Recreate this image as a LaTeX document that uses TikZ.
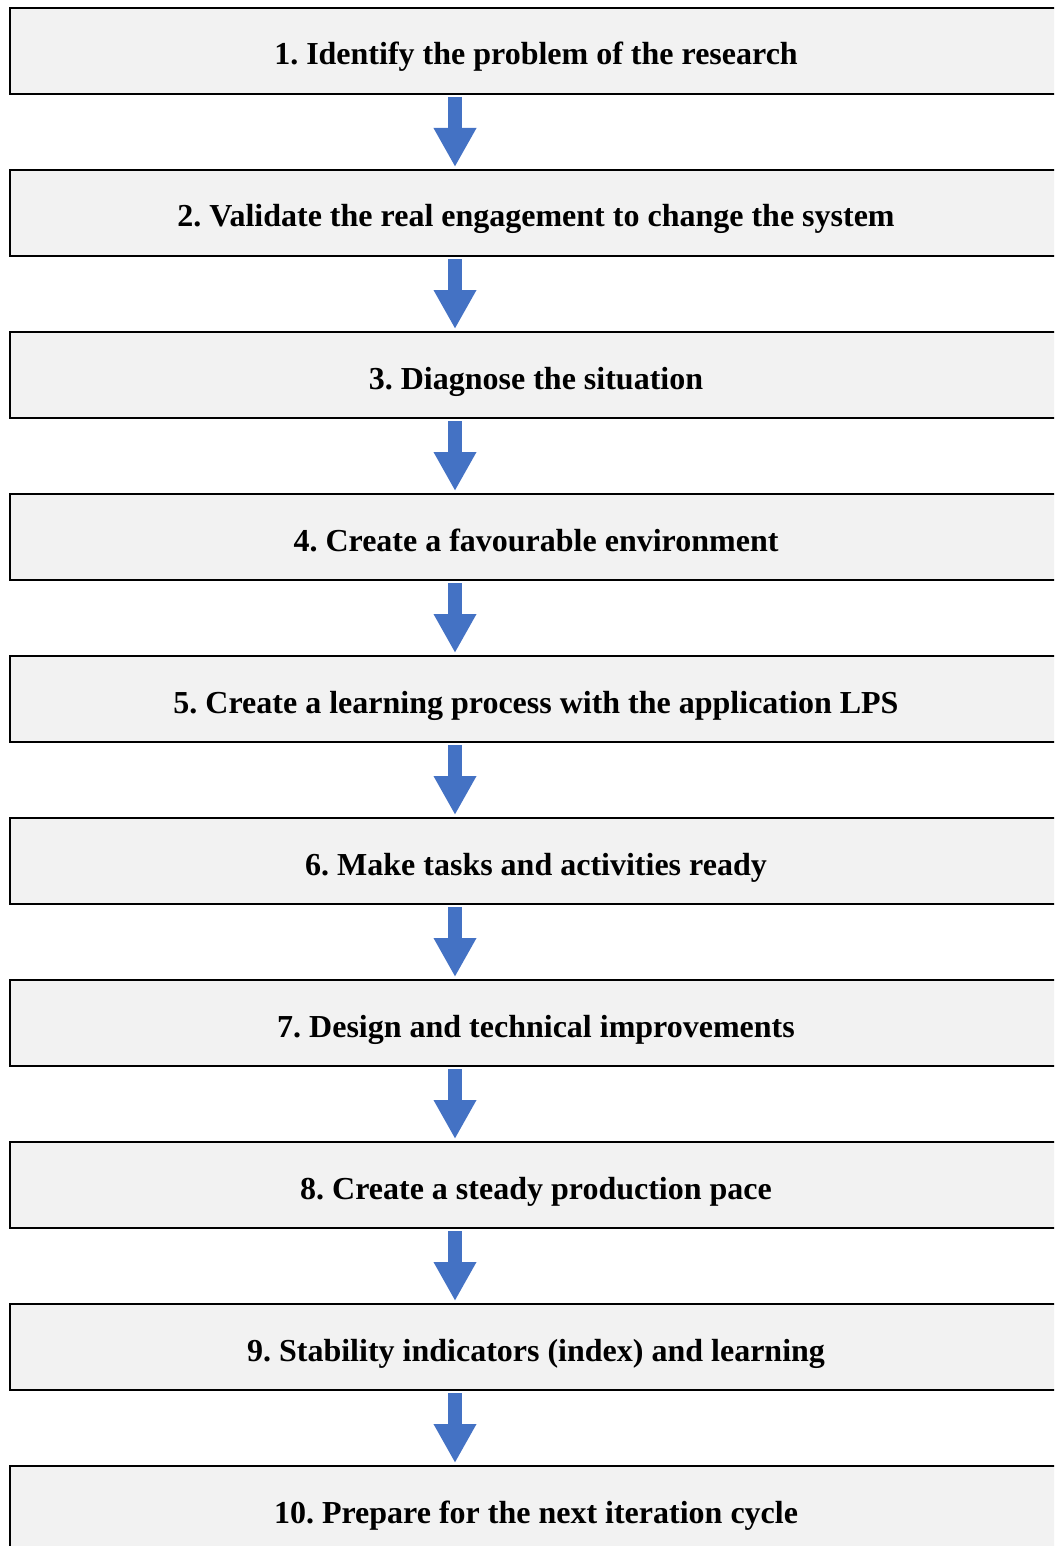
\documentclass[tikz,border=0pt]{standalone}
\usepackage{fontspec}
\setmainfont{Liberation Serif}
\usepackage{xcolor}
\usetikzlibrary{arrows.meta}
\usetikzlibrary{positioning}

\definecolor{stepfill}{HTML}{F2F2F2}
\definecolor{arrowblue}{HTML}{4472C4}

\frenchspacing

\begin{document}
\begin{tikzpicture}[x=1pt, y=1pt, node distance=74pt]
	
	\tikzstyle{stepbox}=[draw, line width=2pt, fill=stepfill, rectangle,
		minimum width=1052pt, minimum height=86pt, inner sep=0pt,
		text height=28pt, text depth=0pt,
		font=\fontsize{32}{38}\selectfont\bfseries]
	\tikzstyle{flow}=[arrowblue, line width=14pt,
		-{Triangle[width=40pt, length=39pt]}]
	
	\useasboundingbox (0,0) rectangle (1054,-1546);
	\clip (0,0) rectangle (1054,-1546);
	
	\node[stepbox] (s1) at (536,-51) {1. Identify the problem of the research};
	\node[stepbox, below=of s1] (s2) {2. Validate the real engagement to change the system};
	\node[stepbox, below=of s2] (s3) {3. Diagnose the situation};
	\node[stepbox, below=of s3] (s4) {4. Create a favourable environment};
	\node[stepbox, below=of s4] (s5) {5. Create a learning process with the application LPS};
	\node[stepbox, below=of s5] (s6) {6. Make tasks and activities ready};
	\node[stepbox, below=of s6] (s7) {7. Design and technical improvements};
	\node[stepbox, below=of s7] (s8) {8. Create a steady production pace};
	\node[stepbox, below=of s8] (s9) {9. Stability indicators (index) and learning};
	\node[stepbox, below=of s9] (s10) {10. Prepare for the next iteration cycle};
	
	% arrows between the steps
	\foreach \a/\b in {s1/s2, s2/s3, s3/s4, s4/s5, s5/s6, s6/s7, s7/s8, s8/s9, s9/s10}
		\draw[flow] ([xshift=-81pt, yshift=-2pt]\a.south) -- ([xshift=-81pt, yshift=2pt]\b.north);
	
\end{tikzpicture}
\end{document}
